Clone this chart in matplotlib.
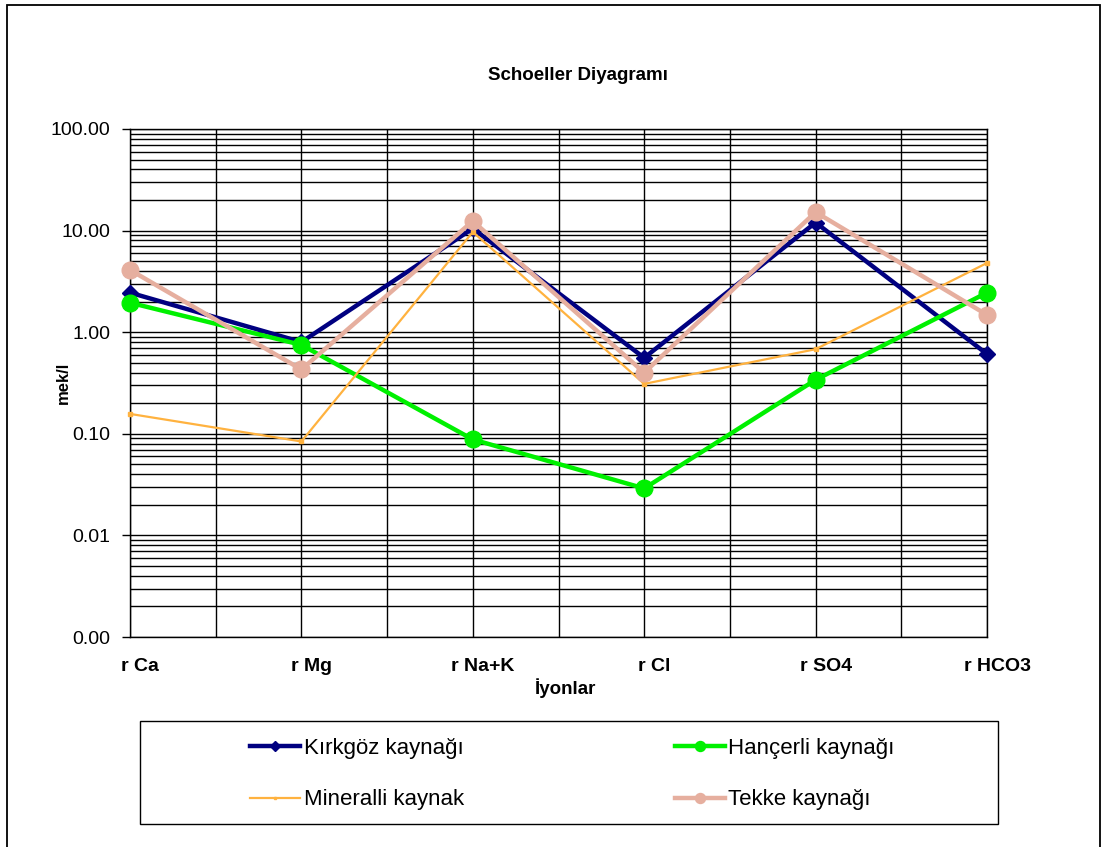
import matplotlib
matplotlib.use("Agg")
import matplotlib.pyplot as plt
from matplotlib.ticker import FixedLocator, FuncFormatter, NullFormatter
from matplotlib.transforms import ScaledTranslation
from matplotlib.patches import Rectangle
import numpy as np

plt.rcParams['font.family'] = ['Liberation Sans', 'DejaVu Sans']

# Ions (x categories)
ions = ["r Ca", "r Mg", "r Na+K", "r Cl", "r SO4", "r HCO3"]

# Concentrations in meq/l for each spring
kirkgoz = [2.45, 0.80, 10.5, 0.56, 12.0, 0.61]
hancerli = [1.95, 0.75, 0.088, 0.029, 0.34, 2.45]
mineralli = [0.157, 0.084, 9.7, 0.31, 0.68, 4.8]
tekke = [4.1, 0.43, 12.4, 0.40, 15.2, 1.48]

W, H = 1102, 847
fig = plt.figure(figsize=(W / 100, H / 100), dpi=100)
fig.patch.set_facecolor("white")

ax = fig.add_axes([130 / W, 1 - 637 / H, (987 - 130) / W, (637 - 129) / H])
x = np.arange(len(ions))

l1, = ax.plot(x, kirkgoz, color="#000080", lw=3.2, marker="D", ms=8.5,
              label="Kırkgöz kaynağı", zorder=3, clip_on=False)
l2, = ax.plot(x, hancerli, color="#00F000", lw=3.2, marker="o", ms=12,
              label="Hançerli kaynağı", zorder=3, clip_on=False)
l3, = ax.plot(x, mineralli, color="#FFB23F", lw=1.6, marker="s", ms=3.5,
              label="Mineralli kaynak", zorder=3, clip_on=False)
l4, = ax.plot(x, tekke, color="#E6AF9F", lw=3.2, marker="o", ms=12,
              label="Tekke kaynağı", zorder=3, clip_on=False)

ax.set_yscale("log")
ax.set_ylim(0.001, 100)
ax.set_xlim(0, len(ions) - 1)

# Log grid: decades plus 2..9 within each decade
ax.yaxis.set_major_locator(FixedLocator([0.001, 0.01, 0.1, 1, 10, 100]))
ax.yaxis.set_major_formatter(FuncFormatter(lambda v, p: f"{v:.2f}"))
minor = [m * 10.0 ** e for e in range(-3, 2) for m in range(2, 10)]
ax.yaxis.set_minor_locator(FixedLocator(minor))
ax.yaxis.set_minor_formatter(NullFormatter())
ax.grid(True, which="major", axis="y", color="black", lw=1.0)
ax.grid(True, which="minor", axis="y", color="black", lw=1.0)

# Vertical grid at every category and halfway between them
ax.set_xticks(x)
ax.xaxis.set_minor_locator(FixedLocator(x[:-1] + 0.5))
ax.grid(True, which="both", axis="x", color="black", lw=1.0)
ax.set_xticklabels(ions, fontsize=14, fontweight="bold")
ax.tick_params(axis="x", which="both", length=0, pad=15)
for lbl in ax.get_xticklabels():
    lbl.set_transform(lbl.get_transform() + ScaledTranslation(0.10, 0, fig.dpi_scale_trans))

ax.tick_params(axis="y", which="major", length=6, width=1, direction="out",
               labelsize=14, pad=8, color="black")
ax.tick_params(axis="y", which="minor", length=0)
for s in ax.spines.values():
    s.set_color("black")
    s.set_linewidth(1.0)

ax.set_axisbelow(True)

fig.text(63 / W, 1 - 383 / H, "mek/l", rotation=90, ha="center", va="center",
         fontsize=12, fontweight="bold")
fig.text(565 / W, 1 - 688 / H, "İyonlar", ha="center", va="center",
         fontsize=13.5, fontweight="bold")
fig.text(578 / W, 1 - 75 / H, "Schoeller Diyagramı", ha="center", va="center",
         fontsize=13.5, fontweight="bold")

# Legend box and entries
fig.add_artist(Rectangle((140 / W, 1 - 824 / H), (998 - 140) / W, (824 - 721) / H,
                         transform=fig.transFigure, fill=False, edgecolor="black",
                         lw=1.0))
leg = fig.legend([l1, l3, l2, l4],
                 [l1.get_label(), l3.get_label(), l2.get_label(), l4.get_label()],
                 ncol=2, loc="center", bbox_to_anchor=(572.5 / W, 1 - 774 / H),
                 frameon=False, fontsize=16, handlelength=2.25, handletextpad=0.15,
                 columnspacing=9.5, labelspacing=1.38, markerscale=0.6)

# Outer chart border
fig.add_artist(Rectangle((7 / W, -0.05), (1100 - 7) / W, 1.05 - 5 / H,
                         transform=fig.transFigure, fill=False, edgecolor="black",
                         lw=1.3))

fig.savefig("out.png", dpi=100)
